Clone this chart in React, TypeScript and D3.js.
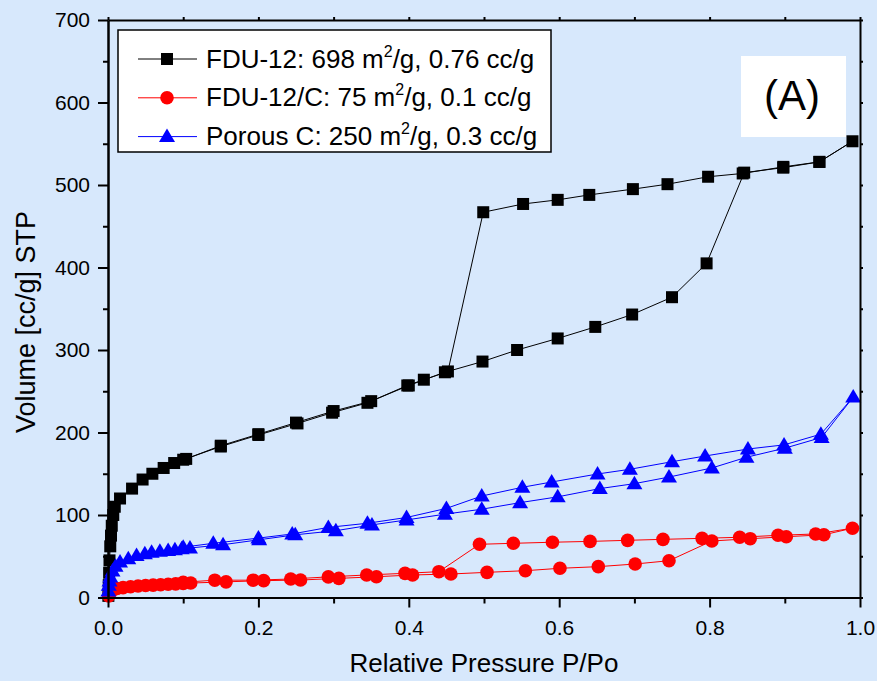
import React, { useRef, useEffect } from "react";
import * as d3 from "d3";

// FDU-12 (black squares)
const fduAdsX = [0.0005, 0.001, 0.0015, 0.002, 0.003, 0.004, 0.005, 0.007, 0.009, 0.016, 0.032, 0.046, 0.059, 0.074, 0.088, 0.104, 0.15, 0.2, 0.25, 0.3, 0.35, 0.4, 0.448, 0.498, 0.544, 0.598, 0.648, 0.697, 0.75, 0.796, 0.846, 0.898, 0.946, 0.99];
const fduAdsY = [2, 15, 30, 45, 62, 75, 87, 100, 110, 120, 132, 143, 150, 157, 163, 168, 184, 198, 212, 226, 238, 257, 273, 286, 300, 314, 328, 343, 364, 405, 515, 521, 528, 553];
const fduDesX = [0.946, 0.898, 0.844, 0.798, 0.744, 0.698, 0.64, 0.598, 0.552, 0.499, 0.452, 0.42, 0.398, 0.345, 0.298, 0.252, 0.2, 0.15, 0.1];
const fduDesY = [528, 522, 514, 510, 501, 495, 488, 482, 477, 467, 274, 264, 257, 236, 224, 211, 197, 183, 167];

// FDU-12/C (red circles)
const carAdsX = [0.001, 0.003, 0.006, 0.012, 0.02, 0.03, 0.04, 0.05, 0.06, 0.07, 0.08, 0.09, 0.1, 0.11, 0.157, 0.207, 0.256, 0.307, 0.357, 0.405, 0.456, 0.504, 0.555, 0.601, 0.652, 0.701, 0.746, 0.803, 0.854, 0.902, 0.952, 0.99];
const carAdsY = [2, 6, 9, 11, 12, 13, 14, 14.5, 15, 15.5, 16, 16.5, 17, 17.5, 19, 20.4, 21.2, 23.2, 25.2, 27.3, 28.5, 30.5, 32.5, 35.4, 37.4, 40.6, 44.6, 68.5, 71.3, 73.7, 76, 84];
const carDesX = [0.941, 0.891, 0.84, 0.79, 0.738, 0.691, 0.641, 0.591, 0.539, 0.494, 0.44, 0.395, 0.344, 0.293, 0.243, 0.193, 0.142, 0.1];
const carDesY = [77, 75.4, 73, 71.7, 70.5, 69.3, 68, 67, 65.7, 64.5, 31.3, 29.3, 27.3, 25, 22.4, 21, 21, 18.5];

// Porous C (blue triangles)
const pcAdsX = [0.0005, 0.001, 0.002, 0.003, 0.006, 0.01, 0.016, 0.027, 0.038, 0.049, 0.058, 0.069, 0.08, 0.089, 0.098, 0.109, 0.153, 0.201, 0.249, 0.303, 0.351, 0.397, 0.448, 0.497, 0.548, 0.598, 0.654, 0.7, 0.746, 0.803, 0.849, 0.9, 0.949, 0.991];
const pcAdsY = [8, 15, 20, 25, 32, 38, 43, 47, 51, 53, 55, 56, 57, 58, 59, 60, 64, 70, 76, 81, 88, 94, 101, 107, 115, 122, 132, 138, 146, 157, 170, 181, 194, 243];
const pcDesX = [0.948, 0.899, 0.851, 0.794, 0.75, 0.694, 0.651, 0.59, 0.551, 0.497, 0.45, 0.397, 0.345, 0.293, 0.245, 0.2, 0.14, 0.1];
const pcDesY = [198, 185, 180, 171.5, 164.6, 155.4, 149.7, 140, 133.6, 123, 108, 97, 90, 85, 77, 72, 65.7, 61];

const legendLabels = ["FDU-12: 698 m|/g, 0.76 cc/g", "FDU-12/C: 75 m|/g, 0.1 cc/g", "Porous C: 250 m|/g, 0.3 cc/g"];
const xTicks = [0, 0.2, 0.4, 0.6, 0.8, 1.0];
const xMinor = [0.1, 0.3, 0.5, 0.7, 0.9];
const yTicks = [0, 100, 200, 300, 400, 500, 600, 700];
const yMinor = [50, 150, 250, 350, 450, 550, 650];

const W = 877;
const H = 681;
const BG = "#d7e8fc";
const FONT = "'Liberation Sans', Arial, sans-serif";

const App = () => {
  const svgRef = useRef<SVGSVGElement>(null);

  useEffect(() => {
    const svg = d3.select(svgRef.current);
    svg.selectAll("*").remove();

    const x = d3.scaleLinear().domain([0, 1]).range([108, 860]);
    const y = d3.scaleLinear().domain([0, 700]).range([597.5, 20]);

    svg.append("rect").attr("width", W).attr("height", H).attr("fill", BG);

    const series = [
      { xs: fduAdsX.concat(fduDesX), ys: fduAdsY.concat(fduDesY), color: "#000000", shape: "square" },
      { xs: carAdsX.concat(carDesX), ys: carAdsY.concat(carDesY), color: "#ff0000", shape: "circle" },
      { xs: pcAdsX.concat(pcDesX), ys: pcAdsY.concat(pcDesY), color: "#0000ff", shape: "triangle" },
    ];

    const line = d3
      .line<number>()
      .x((d) => d[0])
      .y((d) => d[1]);

    const drawMarker = (g, shape, color, cx, cy) => {
      if (shape === "square") {
        g.append("rect")
          .attr("x", cx - 6)
          .attr("y", cy - 6)
          .attr("width", 12)
          .attr("height", 12)
          .attr("fill", color);
      } else if (shape === "circle") {
        g.append("circle").attr("cx", cx).attr("cy", cy).attr("r", 6.8).attr("fill", color);
      } else {
        g.append("path")
          .attr("d", `M${cx},${cy - 8}L${cx + 8},${cy + 5.5}L${cx - 8},${cy + 5.5}Z`)
          .attr("fill", color);
      }
    };

    const plot = svg.append("g");
    series.forEach((s) => {
      const pts = s.xs.map((v, i) => [x(v), y(s.ys[i])]);
      plot.append("path")
        .attr("d", line(pts as any))
        .attr("fill", "none")
        .attr("stroke", s.color)
        .attr("stroke-width", 1);
      pts.forEach((p) => drawMarker(plot, s.shape, s.color, p[0], p[1]));
    });

    // axes
    const xAxis = svg.append("g").attr("transform", `translate(0,${y(0)})`);
    xAxis.call(
      d3.axisBottom(x).tickValues(xTicks).tickFormat(d3.format(".1f")).tickSize(10).tickSizeOuter(0).tickPadding(13)
    );
    const xAxisMinor = svg.append("g").attr("transform", `translate(0,${y(0)})`);
    xAxisMinor.call(d3.axisBottom(x).tickValues(xMinor).tickFormat(() => "").tickSize(6).tickSizeOuter(0));

    const yAxis = svg.append("g").attr("transform", `translate(${x(0)},0)`);
    yAxis.call(d3.axisLeft(y).tickValues(yTicks).tickSize(10).tickSizeOuter(0).tickPadding(8));
    const yAxisMinor = svg.append("g").attr("transform", `translate(${x(0)},0)`);
    yAxisMinor.call(d3.axisLeft(y).tickValues(yMinor).tickFormat(() => "").tickSize(5).tickSizeOuter(0));

    // top / right frame with small ticks
    const top = svg.append("g").attr("transform", `translate(0,${y(700)})`);
    top.call(d3.axisTop(x).tickValues(xTicks.concat(xMinor)).tickFormat(() => "").tickSize(3).tickSizeOuter(0));
    const right = svg.append("g").attr("transform", `translate(${x(1)},0)`);
    right.call(d3.axisRight(y).tickValues(yTicks.concat(yMinor)).tickFormat(() => "").tickSize(3).tickSizeOuter(0));

    [xAxis, xAxisMinor, yAxis, yAxisMinor, top, right].forEach((a) => {
      a.select(".domain").attr("stroke", "#000").attr("stroke-width", 2);
      a.selectAll(".tick line").attr("stroke", "#000").attr("stroke-width", 2);
      a.selectAll("text").attr("font-family", FONT).attr("font-size", 21).attr("fill", "#000");
    });

    // axis titles
    svg.append("text")
      .attr("x", (x(0) + x(1)) / 2)
      .attr("y", 672)
      .attr("text-anchor", "middle")
      .attr("font-family", FONT)
      .attr("font-size", 26)
      .text("Relative Pressure P/Po");

    svg.append("text")
      .attr("transform", `translate(35,322) rotate(-90)`)
      .attr("text-anchor", "middle")
      .attr("font-family", FONT)
      .attr("font-size", 27)
      .text("Volume [cc/g] STP");

    // legend
    const lg = svg.append("g");
    lg.append("rect")
      .attr("x", 118)
      .attr("y", 30)
      .attr("width", 433)
      .attr("height", 122)
      .attr("fill", "#fff")
      .attr("stroke", "#000")
      .attr("stroke-width", 1.5);
    series.forEach((s, i) => {
      const cy = 59 + i * 38.8;
      lg.append("line")
        .attr("x1", 138)
        .attr("x2", 197)
        .attr("y1", cy)
        .attr("y2", cy)
        .attr("stroke", s.color)
        .attr("stroke-width", 1);
      drawMarker(lg, s.shape, s.color, 167, cy);
      const [pre, post] = legendLabels[i].split("|");
      const t = lg.append("text")
        .attr("x", 206)
        .attr("y", cy + 8.5)
        .attr("font-family", FONT)
        .attr("font-size", 26);
      t.append("tspan").text(pre);
      t.append("tspan").attr("font-size", 16).attr("dy", -11).text("2");
      t.append("tspan").attr("dy", 11).text(post);
    });

    // panel label
    svg.append("rect").attr("x", 741).attr("y", 56).attr("width", 105).attr("height", 81).attr("fill", "#fff");
    svg.append("text")
      .attr("x", 792)
      .attr("y", 110)
      .attr("text-anchor", "middle")
      .attr("font-family", FONT)
      .attr("font-size", 42)
      .text("(A)");
  }, []);

  return (
    <svg
      ref={svgRef}
      width={W}
      height={H}
      style={{ position: "absolute", left: 0, top: 0 }}
    ></svg>
  );
};

export default App;
